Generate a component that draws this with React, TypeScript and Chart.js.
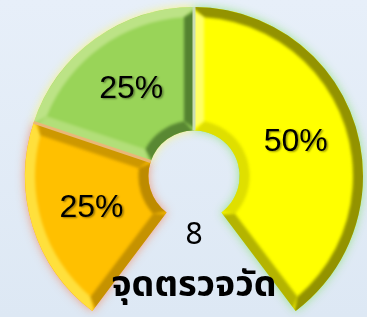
import React, { useEffect, useRef } from "react";
import { Chart, registerables } from "chart.js";

Chart.register(...registerables);

const categories = ["ส้ม", "เขียว", "เหลือง"];
const values = [2, 2, 4];
const segmentColors = ["#FFC000", "#99D458", "#FFFF00"];
const glowColors = ["rgba(240,140,100,0.9)", "rgba(250,245,120,0.95)", "rgba(150,225,130,0.95)"];
// bevel face shades: [outer, inner, start edge, end edge]
const bevelShades = [
  ["rgba(255,255,120,0.5)", "rgba(90,60,0,0.4)", "rgba(90,60,0,0.35)", "rgba(90,60,0,0.3)"],
  ["rgba(255,255,220,0.35)", "rgba(0,30,0,0.42)", "rgba(255,255,220,0.25)", "rgba(0,30,0,0.45)"],
  ["rgba(40,40,0,0.5)", "rgba(40,40,0,0.15)", "rgba(255,255,220,0.45)", "rgba(40,40,0,0.35)"],
];
const gapColors = ["#E9B878", "#C9DDB4"];
const totalCount = "8";
const centerLabel = "จุดตรวจวัด";

const W = 367;
const H = 317;
const BEVEL = 10;

function ringPath(ctx: CanvasRenderingContext2D, a: any) {
  ctx.beginPath();
  ctx.arc(a.x, a.y, a.outerRadius, a.startAngle, a.endAngle);
  ctx.arc(a.x, a.y, a.innerRadius, a.endAngle, a.startAngle, true);
  ctx.closePath();
}

function pt(a: any, r: number, ang: number): [number, number] {
  return [a.x + r * Math.cos(ang), a.y + r * Math.sin(ang)];
}

function drawBevel(ctx: CanvasRenderingContext2D, a: any, shades: string[]) {
  const r1 = a.innerRadius;
  const r2 = a.outerRadius;
  const s = a.startAngle;
  const e = a.endAngle;
  const r1i = r1 + BEVEL;
  const r2i = r2 - BEVEL;
  const d1 = Math.asin(Math.min(1, BEVEL / r1i));
  const d2 = Math.asin(Math.min(1, BEVEL / r2i));
  const ext = 6; // extend faces outward so the blur does not fade at the clipped edge
  // outer face
  ctx.beginPath();
  ctx.arc(a.x, a.y, r2 + ext, s - 0.05, e + 0.05);
  ctx.arc(a.x, a.y, r2i, e - d2, s + d2, true);
  ctx.closePath();
  ctx.fillStyle = shades[0];
  ctx.fill();
  // inner face
  ctx.beginPath();
  ctx.arc(a.x, a.y, Math.max(0, r1 - ext), s - 0.1, e + 0.1);
  ctx.arc(a.x, a.y, r1i, e - d1, s + d1, true);
  ctx.closePath();
  ctx.fillStyle = shades[1];
  ctx.fill();
  // start face
  ctx.beginPath();
  ctx.moveTo(...pt(a, r1, s - 0.08));
  ctx.lineTo(...pt(a, r2, s - 0.04));
  ctx.lineTo(...pt(a, r2i, s + d2));
  ctx.lineTo(...pt(a, r1i, s + d1));
  ctx.closePath();
  ctx.fillStyle = shades[2];
  ctx.fill();
  // end face
  ctx.beginPath();
  ctx.moveTo(...pt(a, r1, e + 0.08));
  ctx.lineTo(...pt(a, r2, e + 0.04));
  ctx.lineTo(...pt(a, r2i, e - d2));
  ctx.lineTo(...pt(a, r1i, e - d1));
  ctx.closePath();
  ctx.fillStyle = shades[3];
  ctx.fill();
}

const effectsPlugin = {
  id: "effects",
  beforeDatasetsDraw(chart: any) {
    const ctx = chart.ctx as CanvasRenderingContext2D;
    const meta = chart.getDatasetMeta(0);
    meta.data.forEach((arc: any, i: number) => {
      ctx.save();
      ctx.shadowColor = glowColors[i];
      ctx.shadowBlur = 10;
      ctx.fillStyle = glowColors[i];
      ringPath(ctx, arc);
      ctx.fill();
      ctx.restore();
    });
  },
  afterDatasetsDraw(chart: any) {
    const ctx = chart.ctx as CanvasRenderingContext2D;
    const meta = chart.getDatasetMeta(0);
    const total = values.reduce((s, v) => s + v, 0);
    meta.data.forEach((arc: any, i: number) => {
      ctx.save();
      ringPath(ctx, arc);
      ctx.clip();
      (ctx as any).filter = "blur(1.5px)";
      drawBevel(ctx, arc, bevelShades[i]);
      (ctx as any).filter = "none";
      ctx.restore();
    });
    // separator lines between adjacent segments
    for (let i = 0; i < meta.data.length - 1; i++) {
      const a = meta.data[i];
      ctx.save();
      ctx.beginPath();
      ctx.moveTo(...pt(a, a.innerRadius, a.endAngle));
      ctx.lineTo(...pt(a, a.outerRadius, a.endAngle));
      ctx.lineWidth = 3;
      ctx.strokeStyle = gapColors[i];
      ctx.stroke();
      ctx.restore();
    }
    // percentage labels
    meta.data.forEach((arc: any, i: number) => {
      const pos = arc.tooltipPosition();
      const pct = Math.round((values[i] / total) * 100) + "%";
      ctx.save();
      ctx.font = "32px 'Liberation Sans', Arial, sans-serif";
      ctx.textAlign = "center";
      ctx.textBaseline = "middle";
      ctx.shadowColor = "rgba(0,0,0,0.4)";
      ctx.shadowOffsetX = 1.5;
      ctx.shadowOffsetY = 1.5;
      ctx.shadowBlur = 2;
      ctx.fillStyle = "#000";
      ctx.fillText(pct, pos.x, pos.y);
      ctx.restore();
    });
    // center texts
    const a0 = meta.data[0];
    ctx.save();
    ctx.fillStyle = "#000";
    ctx.textAlign = "center";
    ctx.textBaseline = "middle";
    ctx.font = "30px 'Noto Sans', 'Liberation Sans', sans-serif";
    ctx.fillText(totalCount, a0.x, 235);
    ctx.font = "bold 36px 'Noto Sans Thai', 'Leelawadee UI', Tahoma, 'Noto Sans', sans-serif";
    ctx.fillText(centerLabel, a0.x, 289);
    ctx.restore();
  },
};

export default function App() {
  const ref = useRef<HTMLCanvasElement>(null);
  useEffect(() => {
    if (!ref.current) return;
    const chart = new Chart(ref.current, {
      type: "doughnut",
      data: {
        labels: categories,
        datasets: [
          {
            data: values,
            backgroundColor: segmentColors,
            borderWidth: 0,
          } as any,
        ],
      },
      options: {
        responsive: false,
        maintainAspectRatio: false,
        animation: false,
        rotation: -143,
        circumference: 286,
        cutout: "27%",
        layout: { padding: { left: 25, right: 4, top: 7, bottom: 6 } },
        plugins: {
          legend: { display: false },
          tooltip: { enabled: false },
        },
      },
      plugins: [effectsPlugin],
    });
    return () => chart.destroy();
  }, []);
  return (
    <div
      style={{
        position: "fixed",
        left: 0,
        top: 0,
        width: W,
        height: H,
        background: "linear-gradient(180deg, #E7EFF9 0%, #DDE8F4 100%)",
      }}
    >
      <canvas ref={ref} width={W} height={H} style={{ display: "block" }} />
    </div>
  );
}
